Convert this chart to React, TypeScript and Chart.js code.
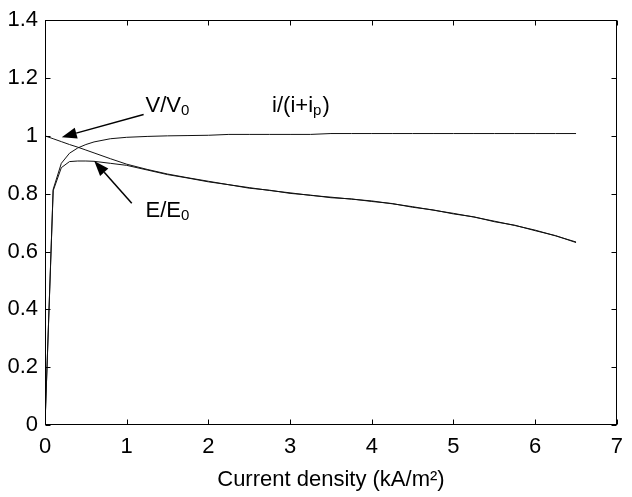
import React, { useEffect, useRef } from 'react';
import { Chart, registerables } from 'chart.js';

Chart.register(...registerables);

// ---- data ----
const xValues = [0, 0.1, 0.2, 0.3, 0.4, 0.5, 0.6, 0.8, 1.0, 1.25, 1.5, 1.75, 2.0, 2.25, 2.5, 2.75, 3.0, 3.25, 3.5, 3.75, 4.0, 4.25, 4.5, 4.75, 5.0, 5.25, 5.5, 5.75, 6.0, 6.25, 6.5];
const vRatio = [1.0, 0.99, 0.98, 0.97, 0.961, 0.951, 0.941, 0.921, 0.902, 0.884, 0.868, 0.855, 0.843, 0.831, 0.821, 0.811, 0.803, 0.794, 0.788, 0.781, 0.775, 0.765, 0.755, 0.743, 0.732, 0.719, 0.705, 0.69, 0.674, 0.654, 0.633];
const eRatio = [0, 0.81, 0.89, 0.911, 0.913, 0.913, 0.912, 0.905, 0.898, 0.882, 0.866, 0.854, 0.841, 0.831, 0.819, 0.812, 0.801, 0.795, 0.786, 0.782, 0.773, 0.766, 0.753, 0.744, 0.73, 0.72, 0.703, 0.691, 0.672, 0.655, 0.631];
const iRatio = [0, 0.815, 0.905, 0.94, 0.958, 0.97, 0.979, 0.99, 0.995, 0.998, 1.0, 1.001, 1.002, 1.005, 1.005, 1.005, 1.005, 1.005, 1.008, 1.008, 1.008, 1.008, 1.008, 1.008, 1.008, 1.008, 1.008, 1.008, 1.008, 1.008, 1.008];
const xTicks = [0, 1, 2, 3, 4, 5, 6, 7];
const yTicks = [0, 0.2, 0.4, 0.6, 0.8, 1.0, 1.2, 1.4];
const xTitle = 'Current density (kA/m²)';

// annotation labels (main text, subscript, trailing text) anchored in data units
const annLabels = [
  { main: 'V/V', sub: '0', tail: '', x: 1.23, y: 1.105 },
  { main: 'i/(i+i', sub: 'p', tail: ')', x: 2.78, y: 1.105 },
  { main: 'E/E', sub: '0', tail: '', x: 1.23, y: 0.739 },
];
const annArrows = [
  { fx: 1.207, fy: 1.074, tx: 0.205, ty: 0.9955 },
  { fx: 1.062, fy: 0.767, tx: 0.603, ty: 0.913 },
];

const FONT = '"Liberation Sans", Arial, Helvetica, sans-serif';
const FS = 22;

const toPts = (ys: number[]) => xValues.map((x, i) => ({ x, y: ys[i] }));

const framePlugin = {
  id: 'frame',
  afterDraw(chart: any) {
    const { ctx, chartArea, scales } = chart;
    const { left, right, top, bottom } = chartArea;
    const L = Math.round(left) + 0.5;
    const R = Math.round(right) - 0.5;
    const T = Math.round(top) + 0.5;
    const B = Math.round(bottom) - 0.5;
    ctx.save();
    ctx.strokeStyle = '#000';
    ctx.lineWidth = 1;
    ctx.strokeRect(L, T, R - L, B - T);
    const tl = 5;
    ctx.beginPath();
    xTicks.forEach((v) => {
      const px = Math.round(scales.x.getPixelForValue(v)) + 0.5;
      ctx.moveTo(px, B);
      ctx.lineTo(px, B - tl);
      ctx.moveTo(px, T);
      ctx.lineTo(px, T + tl);
    });
    yTicks.forEach((v) => {
      const py = Math.round(scales.y.getPixelForValue(v)) + 0.5;
      ctx.moveTo(L, py);
      ctx.lineTo(L + tl, py);
      ctx.moveTo(R, py);
      ctx.lineTo(R - tl, py);
    });
    ctx.stroke();

    // annotations
    ctx.fillStyle = '#000';
    ctx.textBaseline = 'middle';
    ctx.textAlign = 'left';
    annLabels.forEach((a) => {
      const px = scales.x.getPixelForValue(a.x);
      const py = scales.y.getPixelForValue(a.y);
      ctx.font = `${FS}px ${FONT}`;
      ctx.fillText(a.main, px, py);
      let w = ctx.measureText(a.main).width;
      ctx.font = `${Math.round(FS * 0.7)}px ${FONT}`;
      ctx.fillText(a.sub, px + w, py + 5);
      w += ctx.measureText(a.sub).width;
      ctx.font = `${FS}px ${FONT}`;
      if (a.tail) ctx.fillText(a.tail, px + w + 1, py);
    });
    annArrows.forEach((a) => {
      const x1 = scales.x.getPixelForValue(a.fx);
      const y1 = scales.y.getPixelForValue(a.fy);
      const x2 = scales.x.getPixelForValue(a.tx);
      const y2 = scales.y.getPixelForValue(a.ty);
      const ang = Math.atan2(y2 - y1, x2 - x1);
      const hl = 15;
      const hw = 5.5;
      const bx = x2 - hl * Math.cos(ang);
      const by = y2 - hl * Math.sin(ang);
      ctx.beginPath();
      ctx.lineWidth = 1.5;
      ctx.moveTo(x1, y1);
      ctx.lineTo(bx, by);
      ctx.stroke();
      ctx.beginPath();
      ctx.moveTo(x2, y2);
      ctx.lineTo(bx + hw * Math.sin(ang), by - hw * Math.cos(ang));
      ctx.lineTo(bx - hw * Math.sin(ang), by + hw * Math.cos(ang));
      ctx.closePath();
      ctx.fill();
    });
    ctx.restore();
  },
};

export default function App() {
  const ref = useRef<HTMLCanvasElement | null>(null);
  useEffect(() => {
    if (!ref.current) return;
    const lineDs = (label: string, ys: number[]) => ({
      label,
      data: toPts(ys),
      borderColor: '#111',
      borderWidth: 1,
      pointRadius: 0,
      fill: false,
      tension: 0,
    });
    const chart = new Chart(ref.current, {
      type: 'line',
      data: {
        datasets: [
          lineDs('V/V0', vRatio),
          lineDs('E/E0', eRatio),
          lineDs('i/(i+ip)', iRatio),
        ],
      },
      options: {
        animation: false,
        responsive: false,
        devicePixelRatio: 1,
        layout: { padding: { top: 17, right: 7, left: 0, bottom: 0 } },
        plugins: { legend: { display: false }, tooltip: { enabled: false } },
        scales: {
          x: {
            type: 'linear',
            min: 0,
            max: 7,
            grid: { display: false, drawTicks: false },
            border: { display: false },
            ticks: { stepSize: 1, padding: 9, color: '#000', font: { family: FONT, size: FS } },
            title: {
              display: true,
              text: xTitle,
              color: '#000',
              font: { family: FONT, size: FS },
              padding: { top: 0, bottom: 4 },
            },
            afterFit: (s: any) => { s.height = 72; },
          },
          y: {
            type: 'linear',
            min: 0,
            max: 1.4,
            grid: { display: false, drawTicks: false },
            border: { display: false },
            ticks: {
              stepSize: 0.2,
              padding: 7,
              color: '#000',
              font: { family: FONT, size: FS },
              callback: (v: any) => String(Math.round(Number(v) * 10) / 10),
            },
            afterFit: (s: any) => { s.width = 45; },
          },
        },
      } as any,
      plugins: [framePlugin],
    });
    return () => chart.destroy();
  }, []);
  return (
    <div style={{ position: 'absolute', left: 0, top: 0, width: 632, height: 497, background: '#fff' }}>
      <canvas ref={ref} width={632} height={497} style={{ display: 'block' }} />
    </div>
  );
}
